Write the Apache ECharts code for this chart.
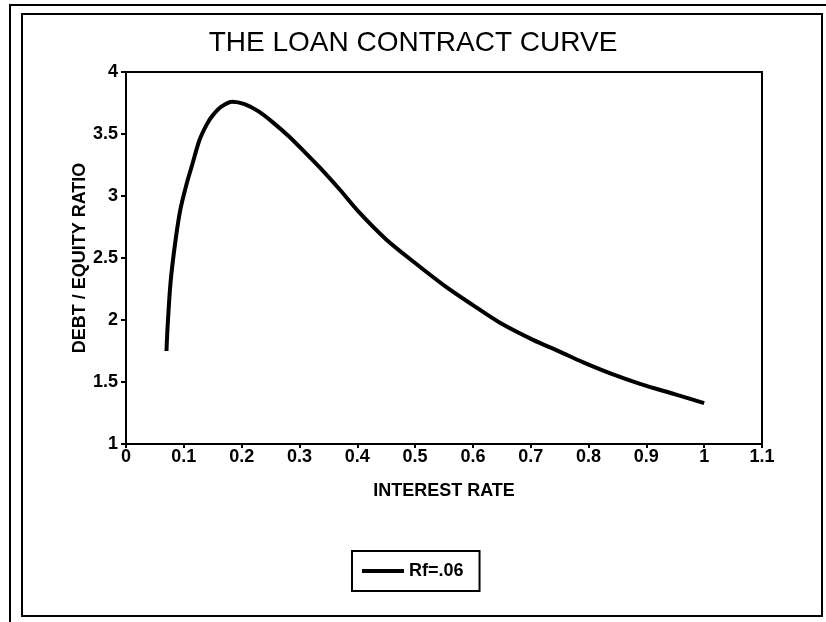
<!DOCTYPE html>
<html>
<head>
<meta charset="utf-8">
<script src="https://cdn.jsdelivr.net/npm/echarts@6/dist/echarts.min.js"></script>
<style>
html,body{margin:0;padding:0;background:#fff;}
#chart{width:826px;height:622px;}
</style>
</head>
<body>
<div id="chart"></div>
<script>
const titleText = 'THE LOAN CONTRACT CURVE';
const xAxisName = 'INTEREST RATE';
const yAxisName = 'DEBT / EQUITY RATIO';
const seriesName = 'Rf=.06';
const interestRate = [0.070, 0.072, 0.077, 0.085, 0.094, 0.105, 0.115, 0.127, 0.140, 0.150, 0.165, 0.184, 0.205, 0.230, 0.255, 0.282, 0.310, 0.335, 0.370, 0.403, 0.450, 0.500, 0.550, 0.600, 0.646, 0.704, 0.750, 0.790, 0.840, 0.889, 0.950, 1.000];
const debtEquity   = [1.75, 1.95, 2.30, 2.62, 2.89, 3.10, 3.26, 3.45, 3.58, 3.65, 3.72, 3.76, 3.74, 3.68, 3.59, 3.48, 3.35, 3.23, 3.05, 2.87, 2.65, 2.46, 2.28, 2.12, 1.98, 1.84, 1.745, 1.66, 1.565, 1.485, 1.40, 1.33];
const xTicks = [0, 0.1, 0.2, 0.3, 0.4, 0.5, 0.6, 0.7, 0.8, 0.9, 1, 1.1];
const yTicks = [1, 1.5, 2, 2.5, 3, 3.5, 4];

const chart = echarts.init(document.getElementById('chart'), null, {renderer: 'canvas'});
const font = "'Liberation Sans', Arial, Helvetica, sans-serif";
const pts = interestRate.map((x, i) => [x, debtEquity[i]]);

chart.setOption({
  backgroundColor: '#fff',
  animation: false,
  title: {
    text: titleText,
    left: 'center',
    top: 24,
    textStyle: {fontFamily: font, fontSize: 28, fontWeight: 'normal', color: '#000'}
  },
  legend: {
    data: [seriesName],
    left: 352,
    top: 551,
    itemWidth: 42,
    itemHeight: 4,
    itemGap: 8,
    padding: [11, 16, 11, 10],
    borderColor: '#000',
    borderWidth: 2,
    icon: 'rect',
    textStyle: {fontFamily: font, fontSize: 18, fontWeight: 'bold', color: '#000'}
  },
  grid: {
    left: 126, right: 64, top: 72, bottom: 178,
    show: true, borderColor: '#000', borderWidth: 2, backgroundColor: 'transparent'
  },
  xAxis: {
    type: 'value',
    min: 0, max: 1.1, interval: 0.1,
    name: xAxisName,
    nameLocation: 'middle',
    nameGap: 38,
    nameMoveOverlap: false,
    nameTextStyle: {fontFamily: font, fontSize: 18, fontWeight: 'bold', color: '#000'},
    axisLine: {show: true, lineStyle: {color: '#000', width: 2}},
    axisTick: {show: true, inside: false, length: 4, lineStyle: {color: '#000', width: 2}},
    splitLine: {show: false},
    axisLabel: {
      margin: 4,
      fontFamily: font, fontSize: 18, fontWeight: 'bold', color: '#000',
      formatter: v => {
        const t = xTicks.find(t => Math.abs(t - v) < 1e-6);
        return t === undefined ? '' : String(t);
      }
    }
  },
  yAxis: {
    type: 'value',
    min: 1, max: 4, interval: 0.5,
    name: yAxisName,
    nameLocation: 'middle',
    nameGap: 37,
    nameRotate: 90,
    nameMoveOverlap: false,
    nameTextStyle: {fontFamily: font, fontSize: 18, fontWeight: 'bold', color: '#000'},
    axisLine: {show: true, lineStyle: {color: '#000', width: 2}},
    axisTick: {show: true, inside: false, length: 5, lineStyle: {color: '#000', width: 2}},
    splitLine: {show: false},
    axisLabel: {
      margin: 8,
      fontFamily: font, fontSize: 18, fontWeight: 'bold', color: '#000',
      formatter: v => {
        const t = yTicks.find(t => Math.abs(t - v) < 1e-6);
        return t === undefined ? '' : String(t);
      }
    }
  },
  series: [{
    name: seriesName,
    type: 'line',
    data: pts,
    smooth: 0.3,
    showSymbol: false,
    symbol: 'none',
    lineStyle: {color: '#000', width: 4},
    itemStyle: {color: '#000'}
  }],
  graphic: [
    {type: 'rect', shape: {x: 10, y: 5, width: 840, height: 640}, style: {fill: 'none', stroke: '#000', lineWidth: 2}, silent: true},
    {type: 'rect', shape: {x: 22, y: 14, width: 800, height: 602}, style: {fill: 'none', stroke: '#000', lineWidth: 2}, silent: true}
  ]
});
</script>
</body>
</html>
